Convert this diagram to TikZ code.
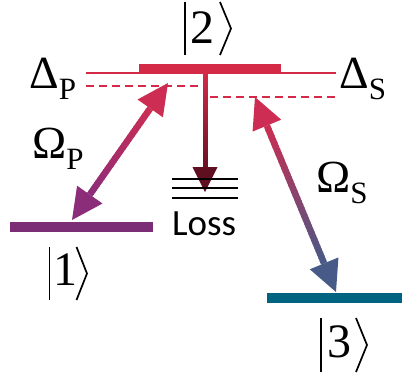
\documentclass[tikz,border=0pt]{standalone}
\usepackage{fontspec}
\setmainfont{Liberation Serif}
\newfontfamily\lossfont{Carlito}
\usetikzlibrary{calc}
\definecolor{crim}{RGB}{212,42,72}
\definecolor{crimA}{RGB}{205,45,82}
\definecolor{purpA}{RGB}{140,45,122}
\definecolor{slateA}{RGB}{72,90,135}
\definecolor{maroon}{RGB}{95,15,32}
\definecolor{levone}{RGB}{123,45,118}
\definecolor{levthree}{RGB}{0,99,129}
\newcommand\gsym[2]{\fontsize{46}{50}\selectfont #1\raisebox{-11pt}{\fontsize{31}{34}\selectfont #2}}
% gradient shaft: #1 start, #2 end, #3 start colour, #4 end colour, #5 width
\newcommand\gshaft[5]{%
  \foreach \k in {0,...,39}{%
    \pgfmathsetmacro\pa{\k/40}%
    \pgfmathsetmacro\pb{min(1,(\k+1.4)/40)}%
    \pgfmathsetmacro\pc{100-(\k+0.5)*2.5}%
    \draw[line width=#5, color=#3!\pc!#4] ($(#1)!\pa!(#2)$) -- ($(#1)!\pb!(#2)$);
  }}
% arrow head: #1 tip, #2 point behind, #3 colour, #4 length, #5 half width, #6 base coordinate name
\newcommand\ahead[6]{%
  \coordinate (#6) at ($(#1)!#4!(#2)$);
  \fill[#3] (#1) -- ($(#6)!#5!90:(#1)$) -- ($(#6)!#5!-90:(#1)$) -- cycle;}
\tikzset{
  ketdigit/.style={anchor=base, inner sep=0pt, font=\fontsize{48}{52}\selectfont},
  ketline/.style={line width=1.7pt, line join=miter},
  glabel/.style={anchor=base west, inner sep=0pt},
}
\begin{document}
\begin{tikzpicture}[x=1pt,y=-1pt]
\useasboundingbox (0,0) rectangle (402,376);
% levels
\draw[crim, line width=1.5pt] (86,73) -- (336,73);
\draw[crim, line width=1.3pt, dash pattern=on 8pt off 5pt] (86,86) -- (203,86);
\draw[crim, line width=1.3pt, dash pattern=on 8pt off 5pt] (210,97) -- (336,97);
\fill[crim] (139,64) rectangle (281,74);
\fill[levone] (10,222) rectangle (153,232);
\fill[levthree] (267,293) rectangle (402,303);
% loss arrow
\coordinate (lossTop) at (205,74);
\coordinate (lossTip) at (205,192);
\ahead{lossTip}{lossTop}{maroon}{25pt}{12.5pt}{lossBase}
\gshaft{lossTop}{lossBase}{crim}{maroon!90!crim}{5pt}
% loss levels
\foreach \yy in {179,188,198} \draw[line width=1.6pt] (172,\yy) -- (238,\yy);
% pump arrow
\coordinate (pTop) at (168,83);
\coordinate (pBot) at (72,220);
\ahead{pTop}{pBot}{crimA}{31pt}{15.5pt}{pTopBase}
\ahead{pBot}{pTop}{purpA}{31pt}{15.5pt}{pBotBase}
\gshaft{pTopBase}{pBotBase}{crimA}{purpA}{6.5pt}
% Stokes arrow
\coordinate (sTop) at (255,97);
\coordinate (sBot) at (336,292);
\ahead{sTop}{sBot}{crimA}{31pt}{15.5pt}{sTopBase}
\ahead{sBot}{sTop}{slateA}{31pt}{15.5pt}{sBotBase}
\gshaft{sTopBase}{sBotBase}{crimA}{slateA}{6.5pt}
% kets
\node[ketdigit] (k2) at (202.5,43) {2};
\draw[ketline] (185,2) -- (185,55);
\draw[ketline] (220,2) -- (231,28.5) -- (220,55);
\node[ketdigit] (k1) at (65.5,285) {1};
\draw[ketline] (49.5,247) -- (49.5,300);
\draw[ketline] (76.5,247) -- (87,273.5) -- (76.5,300);
\node[ketdigit] (k3) at (339,357) {3};
\draw[ketline] (321,318) -- (321,372);
\draw[ketline] (356,318) -- (367,345) -- (356,372);
% labels
\node[glabel] (dP) at (29,88) {\gsym{Δ}{P}};
\node[glabel] (dS) at (339,88) {\gsym{Δ}{S}};
\node[glabel] (oP) at (32,158) {\gsym{Ω}{P}};
\node[glabel] (oS) at (316,192) {\gsym{Ω}{S}};
\node[anchor=base west, inner sep=0pt] (loss) at (172,235) {\fontsize{37}{40}\lossfont Loss};
\end{tikzpicture}
\end{document}
